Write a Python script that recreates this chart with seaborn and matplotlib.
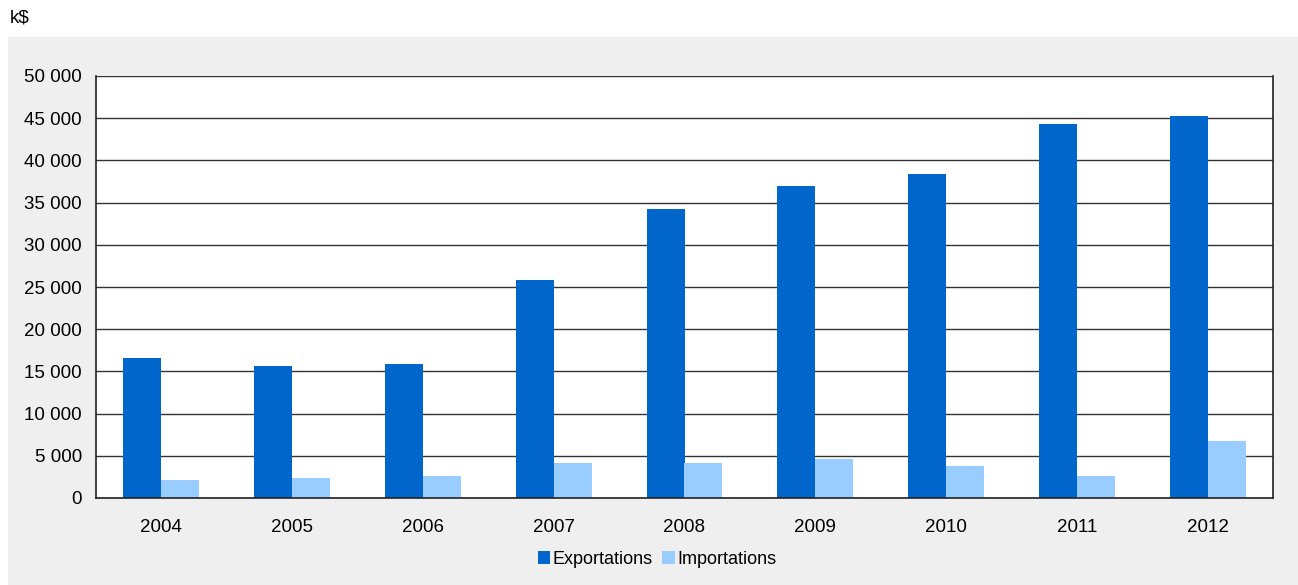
import pandas as pd
import matplotlib.pyplot as plt
import matplotlib.ticker as mticker
from matplotlib.patches import Rectangle
import seaborn as sns

# === Data (k$) ===
years = ["2004", "2005", "2006", "2007", "2008", "2009", "2010", "2011", "2012"]
exportations = [16550, 15600, 15830, 25800, 34200, 37000, 38400, 44300, 45300]
importations = [2180, 2400, 2650, 4200, 4200, 4650, 3750, 2650, 6800]
series_names = ["Exportations", "Importations"]
colors = ["#0066CC", "#99CCFF"]

df = pd.DataFrame({
    "year": years * 2,
    "value": exportations + importations,
    "serie": [series_names[0]] * len(years) + [series_names[1]] * len(years),
})

# === Settings ===
sns.set_style("white")
plt.rcParams["font.family"] = ["Liberation Sans", "DejaVu Sans"]
plt.rcParams["text.color"] = "black"
plt.rcParams["xtick.color"] = "black"
plt.rcParams["ytick.color"] = "black"
fs = 13.5

fig = plt.figure(figsize=(12.98, 5.85), dpi=100)
fig.patch.set_facecolor("white")
fig.patches.append(Rectangle((8 / 1298, 0), 1, (585 - 37) / 585,
                             transform=fig.transFigure, facecolor="#efefef",
                             edgecolor="none", zorder=-10))

ax = fig.add_axes([96 / 1298, (585 - 498) / 585, (1273 - 96) / 1298, (498 - 76) / 585])
sns.barplot(data=df, x="year", y="value", hue="serie", palette=colors,
            width=0.58, saturation=1, linewidth=0, ax=ax, legend=True)

ax.set_facecolor("white")
ax.set_ylim(0, 50000)
ax.yaxis.set_major_locator(mticker.MultipleLocator(5000))
ax.yaxis.set_major_formatter(mticker.FuncFormatter(lambda v, p: f"{int(v):,}".replace(",", " ")))
ax.grid(axis="y", color="#333333", linewidth=1)
ax.set_axisbelow(True)
ax.set_xlabel("")
ax.set_ylabel("")
ax.tick_params(axis="both", length=0, labelsize=fs, pad=10)
ax.tick_params(axis="x", pad=15)
for side in ["left", "right", "bottom"]:
    ax.spines[side].set_color("#222222")
    ax.spines[side].set_linewidth(1.2)
ax.spines["top"].set_visible(False)

ax.legend(loc="center", bbox_to_anchor=((657 - 96) / (1273 - 96), -(559 - 498) / (498 - 76)),
          ncol=2, frameon=False, fontsize=13, handlelength=0.7, handleheight=0.7,
          handletextpad=0.15, columnspacing=0.5)

fig.text(10 / 1298, 1 - 18 / 585, "k$", fontsize=fs, ha="left", va="center")

fig.savefig("out.png", dpi=100, facecolor=fig.get_facecolor())
